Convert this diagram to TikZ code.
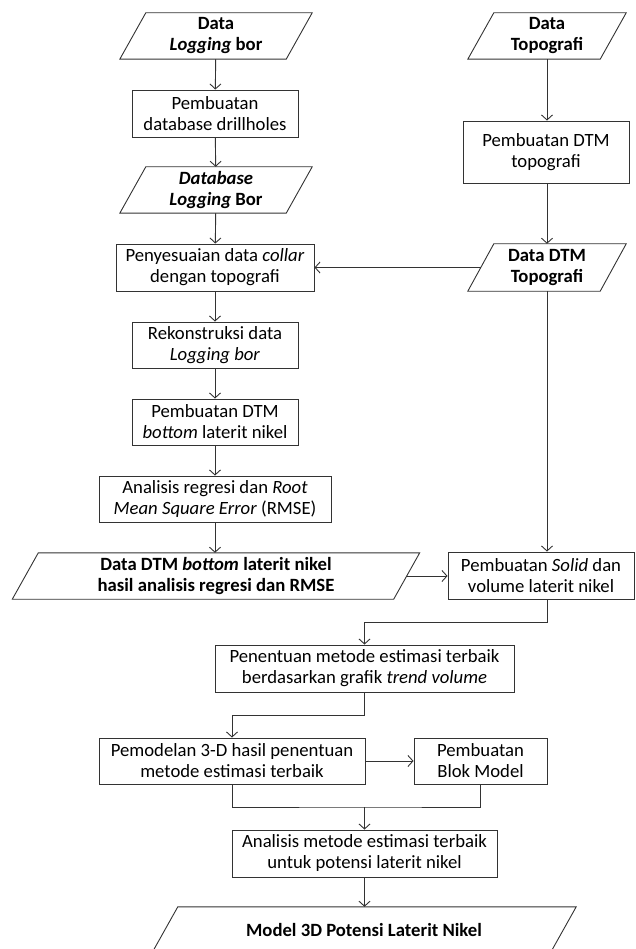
\documentclass[tikz,border=0pt]{standalone}
\usepackage{fontspec}
\setmainfont{Carlito}
\usetikzlibrary{arrows.meta,calc}
\definecolor{linec}{gray}{0.2}
\tikzset{
  box/.style={draw=linec, line width=0.9pt, rectangle, align=center, inner sep=0pt,
    font=\fontsize{18.7}{21}\selectfont},
  iobox/.style={rectangle, align=center, inner sep=0pt,
    font=\bfseries\fontsize{18.7}{21}\selectfont},
  conn/.style={draw=linec, line width=0.9pt, -{Straight Barb[length=5pt,width=11pt]}},
  plain/.style={draw=linec, line width=0.9pt},
}
\newcommand{\paraoutline}[1]{%
  \draw[plain] ($(#1.north west)+(13,0)$) -- ($(#1.north east)+(13,0)$)
    -- ($(#1.south east)+(-13,0)$) -- ($(#1.south west)+(-13,0)$) -- cycle;}
\begin{document}
\begin{tikzpicture}[x=1pt,y=-1pt]
\useasboundingbox (0,0) rectangle (635,949);
\clip (0,0) rectangle (635,949);

% left column
\node[iobox, minimum width=166pt, minimum height=46pt] (d1) at (216,36) {Data\\\textit{Logging} bor};
\node[box, minimum width=166pt, minimum height=47pt] (b1) at (215,113.5) {Pembuatan\\database drillholes};
\node[iobox, minimum width=166pt, minimum height=46pt] (d2) at (216,190) {\textit{Database}\\\textit{Logging} Bor};
\node[box, minimum width=198pt, minimum height=47pt] (b2) at (215,267.5) {Penyesuaian data \textit{collar}\\dengan topografi};
\node[box, minimum width=166pt, minimum height=46pt] (b3) at (215,345) {Rekonstruksi data\\\textit{Logging bor}};
\node[box, minimum width=166pt, minimum height=46pt] (b4) at (215,422) {Pembuatan DTM\\\textit{bottom} laterit nikel};
\node[box, minimum width=232pt, minimum height=46pt] (b5) at (215,499) {Analisis regresi dan \textit{Root}\\\textit{Mean Square Error} (RMSE)};
\node[iobox, minimum width=381pt, minimum height=46pt] (d3) at (216,576) {Data DTM \textit{bottom} laterit nikel\\hasil analisis regresi dan RMSE};

% right column
\node[iobox, minimum width=132pt, minimum height=46pt] (d4) at (547,36) {Data\\Topografi};
\node[box, minimum width=166pt, minimum height=62pt] (b6) at (546,152) {Pembuatan DTM\\topografi};
\node[iobox, minimum width=132pt, minimum height=47pt] (d5) at (547,267.5) {Data DTM\\Topografi};
\node[box, minimum width=186pt, minimum height=47pt] (b7) at (541,575.5) {Pembuatan \textit{Solid} dan\\volume laterit nikel};

% lower part
\node[box, minimum width=299pt, minimum height=47pt] (b8) at (364.5,668.5) {Penentuan metode estimasi terbaik\\berdasarkan grafik \textit{trend volume}};
\node[box, minimum width=266pt, minimum height=46pt] (b9) at (232,761) {Pemodelan 3-D hasil penentuan\\metode estimasi terbaik};
\node[box, minimum width=133pt, minimum height=46pt] (b10) at (480.5,761) {Pembuatan\\Blok Model};
\node[box, minimum width=265pt, minimum height=47pt] (b11) at (364.5,853.5) {Analisis metode estimasi terbaik\\untuk potensi laterit nikel};
\node[iobox, minimum width=398pt, minimum height=46pt] (d6) at (364,930) {Model 3D Potensi Laterit Nikel};

\paraoutline{d1}
\paraoutline{d2}
\paraoutline{d3}
\paraoutline{d4}
\paraoutline{d5}
\paraoutline{d6}

\coordinate (c1) at (547,622);
\coordinate (c2) at (364.5,715);
\coordinate (m) at (364.5,807);

% connectors
\draw[conn] (d1) -- (b1);
\draw[conn] (b1) -- (d2);
\draw[conn] (d2) -- (b2);
\draw[conn] (b2) -- (b3);
\draw[conn] (b3) -- (b4);
\draw[conn] (b4) -- (b5);
\draw[conn] (b5.south) -- (b5.south |- d3.north);
\draw[conn] (d4) -- (d4 |- b6.north);
\draw[conn] (d4 |- b6.south) -- (d5);
\draw[conn] (d5.west) -- (b2.east);
\draw[conn] (d5.south) -- (d5.south |- b7.north);
\draw[conn] (d3.east) -- (b7.west |- d3.east);
\draw[conn] (b7.south -| d5.south) -- (c1) -| (b8.north);
\draw[conn] (b8.south) -- (c2) -| (b9.north);
\draw[conn] (b9.east) -- (b10.west);
\draw[plain] (b9.south) |- (m) -| (b10.south);
\draw[conn] (m) -- (b11.north);
\draw[conn] (b11.south) -- (b11.south |- d6.north);
\end{tikzpicture}
\end{document}
